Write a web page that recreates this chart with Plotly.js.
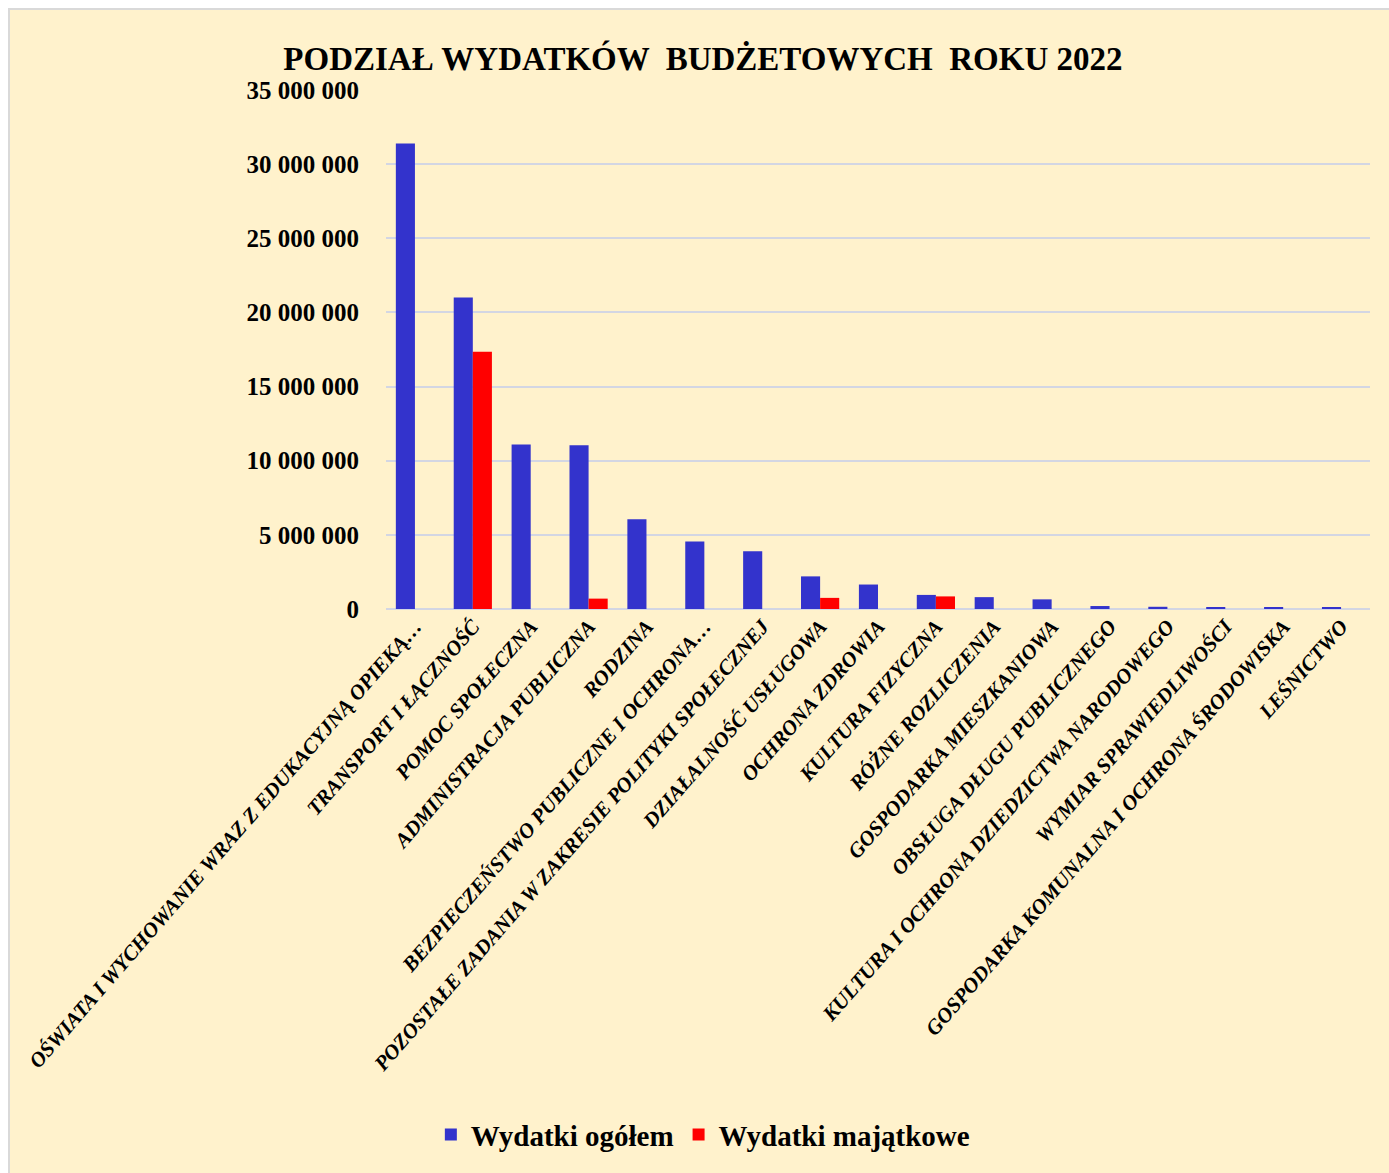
<!DOCTYPE html>
<html>
<head>
<meta charset="utf-8">
<script src="https://cdn.plot.ly/plotly-3.0.1.min.js"></script>
<style>
  html, body { margin: 0; padding: 0; background: #ffffff; }
  #frame { position: absolute; left: 8px; top: 8px; width: 1379px; height: 1163px;
           border-left: 2px solid #d9d9d9; border-top: 2px solid #d9d9d9; background: #FFF2CC; }
  #chart { width: 1379px; height: 1163px; }
</style>
</head>
<body>
<div id="frame"><div id="chart"></div></div>
<script>
const categories = [
  "OŚWIATA I WYCHOWANIE WRAZ Z EDUKACYJNĄ OPIEKĄ…",
  "TRANSPORT I ŁĄCZNOŚĆ",
  "POMOC SPOŁECZNA",
  "ADMINISTRACJA PUBLICZNA",
  "RODZINA",
  "BEZPIECZEŃSTWO PUBLICZNE I OCHRONA…",
  "POZOSTAŁE ZADANIA W ZAKRESIE POLITYKI SPOŁECZNEJ",
  "DZIAŁALNOŚĆ USŁUGOWA",
  "OCHRONA ZDROWIA",
  "KULTURA FIZYCZNA",
  "RÓŻNE ROZLICZENIA",
  "GOSPODARKA MIESZKANIOWA",
  "OBSŁUGA DŁUGU PUBLICZNEGO",
  "KULTURA I OCHRONA DZIEDZICTWA NARODOWEGO",
  "WYMIAR SPRAWIEDLIWOŚCI",
  "GOSPODARKA KOMUNALNA I OCHRONA ŚRODOWISKA",
  "LEŚNICTWO"
];
const wydatkiOgolem = [31400000, 21000000, 11100000, 11050000, 6050000, 4550000, 3900000, 2200000, 1650000, 950000, 800000, 650000, 200000, 150000, 120000, 110000, 90000];
const wydatkiMajatkowe = [0, 17350000, 0, 700000, 0, 0, 0, 750000, 0, 850000, 0, 0, 0, 0, 0, 0, 0];
const yTicks = [0, 5000000, 10000000, 15000000, 20000000, 25000000, 30000000, 35000000];

const serif = "Liberation Serif, Times New Roman, serif";

const data = [
  { type: "bar", name: "Wydatki ogółem", x: categories, y: wydatkiOgolem,
    marker: { color: "#3333CC", line: { width: 0 } } },
  { type: "bar", name: "Wydatki majątkowe", x: categories, y: wydatkiMajatkowe,
    marker: { color: "#FF0000", line: { width: 0 } } }
];

const layout = {
  width: 1379, height: 1163,
  paper_bgcolor: "rgba(0,0,0,0)",
  plot_bgcolor: "rgba(0,0,0,0)",
  separators: ", ",
  margin: { l: 376, r: 19, t: 80, b: 564 },
  barmode: "group",
  bargap: 0.34,
  bargroupgap: 0,
  title: {
    text: "<b>PODZIAŁ WYDATKÓW  BUDŻETOWYCH  ROKU 2022</b>",
    font: { family: serif, size: 33, color: "#000000" },
    xref: "container", x: 0.5025, xanchor: "center",
    yref: "container", y: 0.9587, yanchor: "middle"
  },
  xaxis: {
    type: "category",
    tickangle: -49,
    tickfont: { family: serif, size: 21, color: "#000000", style: "italic", weight: "bold" },
    showgrid: false, showline: false, zeroline: false, ticks: ""
  },
  yaxis: {
    range: [0, 35000000],
    tickvals: yTicks,
    tickformat: ",d",
    tickfont: { family: serif, size: 25, color: "#000000", weight: "bold" },
    ticklabelstandoff: 26,
    showgrid: true, gridcolor: "#d3d6e3", gridwidth: 2,
    zeroline: true, zerolinecolor: "#d3d6e3", zerolinewidth: 2,
    showline: false, ticks: ""
  },
  showlegend: true,
  legend: {
    orientation: "h",
    x: 0.322, xanchor: "center",
    y: -1.013, yanchor: "middle",
    font: { family: serif, size: 29, color: "#000000", weight: "bold" },
    bgcolor: "rgba(0,0,0,0)",
    itemwidth: 30
  }
};

Plotly.newPlot("chart", data, layout, { displayModeBar: false, responsive: false });
</script>
</body>
</html>
